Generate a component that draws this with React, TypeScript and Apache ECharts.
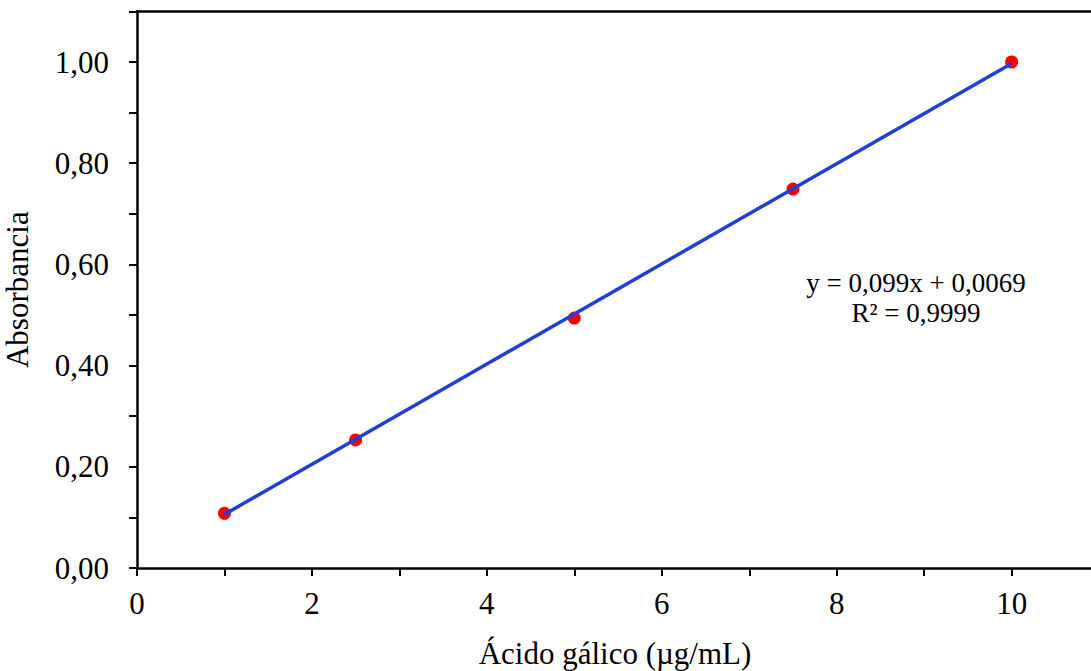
import React, { useEffect, useRef } from "react";
import * as echarts from "echarts";

const concentrations = [1, 2.5, 5, 7.5, 10];
const absorbances = [0.108, 0.253, 0.494, 0.749, 1.0];
const trendX = [1, 10];
const trendY = [0.106, 0.997];
const equationLines = ["y = 0,099x + 0,0069", "R² = 0,9999"];
const xName = "Ácido gálico (µg/mL)";
const yName = "Absorbancia";
const xMax = 10.93;

const FONT = "Times New Roman, Liberation Serif, serif";

export default function App() {
  const ref = useRef<HTMLDivElement>(null);
  useEffect(() => {
    if (!ref.current) return;
    const chart = echarts.init(ref.current, undefined, { renderer: "svg" });
    chart.setOption({
      animation: false,
      backgroundColor: "#fff",
      textStyle: { fontFamily: FONT },
      grid: {
        left: 137,
        top: 11.4,
        bottom: 103,
        right: -2,
        outerBoundsMode: "none",
        containLabel: false,
      },
      xAxis: [
        {
          type: "value",
          min: 0,
          max: xMax,
          interval: 1,
          name: xName,
          nameLocation: "middle",
          nameGap: 70,
          nameTextStyle: { fontFamily: FONT, fontSize: 31, color: "#000", padding: [0, 0, 0, 0] },
          axisLine: { show: true, lineStyle: { color: "#000", width: 2.5 } },
          axisTick: { show: true, length: 8, lineStyle: { color: "#000", width: 2 } },
          splitLine: { show: false },
          axisLabel: {
            margin: 20,
            fontFamily: FONT,
            fontSize: 31,
            color: "#000",
            formatter: (v: number) => {
              const r = Math.round(v);
              return Math.abs(v - r) < 1e-6 && r % 2 === 0 && r <= 10 ? String(r) : "";
            },
          },
        },
        {
          type: "value",
          position: "top",
          min: 0,
          max: xMax,
          interval: 1,
          axisLine: { show: true, lineStyle: { color: "#000", width: 2.5 } },
          axisTick: { show: false },
          axisLabel: { show: false },
          splitLine: { show: false },
        },
      ],
      yAxis: {
        type: "value",
        min: 0,
        max: 1.1,
        interval: 0.1,
        name: yName,
        nameLocation: "middle",
        nameGap: 104,
        nameRotate: 90,
        nameTextStyle: { fontFamily: FONT, fontSize: 31, color: "#000" },
        axisLine: { show: true, lineStyle: { color: "#000", width: 2.5 } },
        axisTick: { show: true, length: 8, lineStyle: { color: "#000", width: 2 } },
        splitLine: { show: false },
        axisLabel: {
          margin: 28,
          fontFamily: FONT,
          fontSize: 31,
          color: "#000",
          formatter: (v: number) => {
            const t = Math.round(v * 10);
            return t % 2 === 0 && t <= 10 ? (t / 10).toFixed(2).replace(".", ",") : "";
          },
        },
      },
      series: [
        {
          type: "line",
          data: trendX.map((x, i) => [x, trendY[i]]),
          showSymbol: false,
          symbol: "none",
          lineStyle: { color: "#1f3fd6", width: 3.5 },
          z: 3,
        },
        {
          type: "scatter",
          data: concentrations.map((x, i) => [x, absorbances[i]]),
          symbolSize: 13,
          itemStyle: { color: "#ff0000", opacity: 1 },
          z: 2,
        },
      ],
      graphic: [
        {
          type: "text",
          x: 916,
          y: 268,
          style: {
            text: equationLines.join("\n"),
            fontFamily: FONT,
            fontSize: 27,
            lineHeight: 30,
            fill: "#000",
            align: "center",
            verticalAlign: "top",
          },
        },
      ],
    });
    return () => chart.dispose();
  }, []);
  return (
    <div style={{ position: "fixed", left: 0, top: 0, width: 1091, height: 671, overflow: "hidden", background: "#fff" }}>
      <div ref={ref} style={{ width: 1091, height: 671 }} />
    </div>
  );
}
